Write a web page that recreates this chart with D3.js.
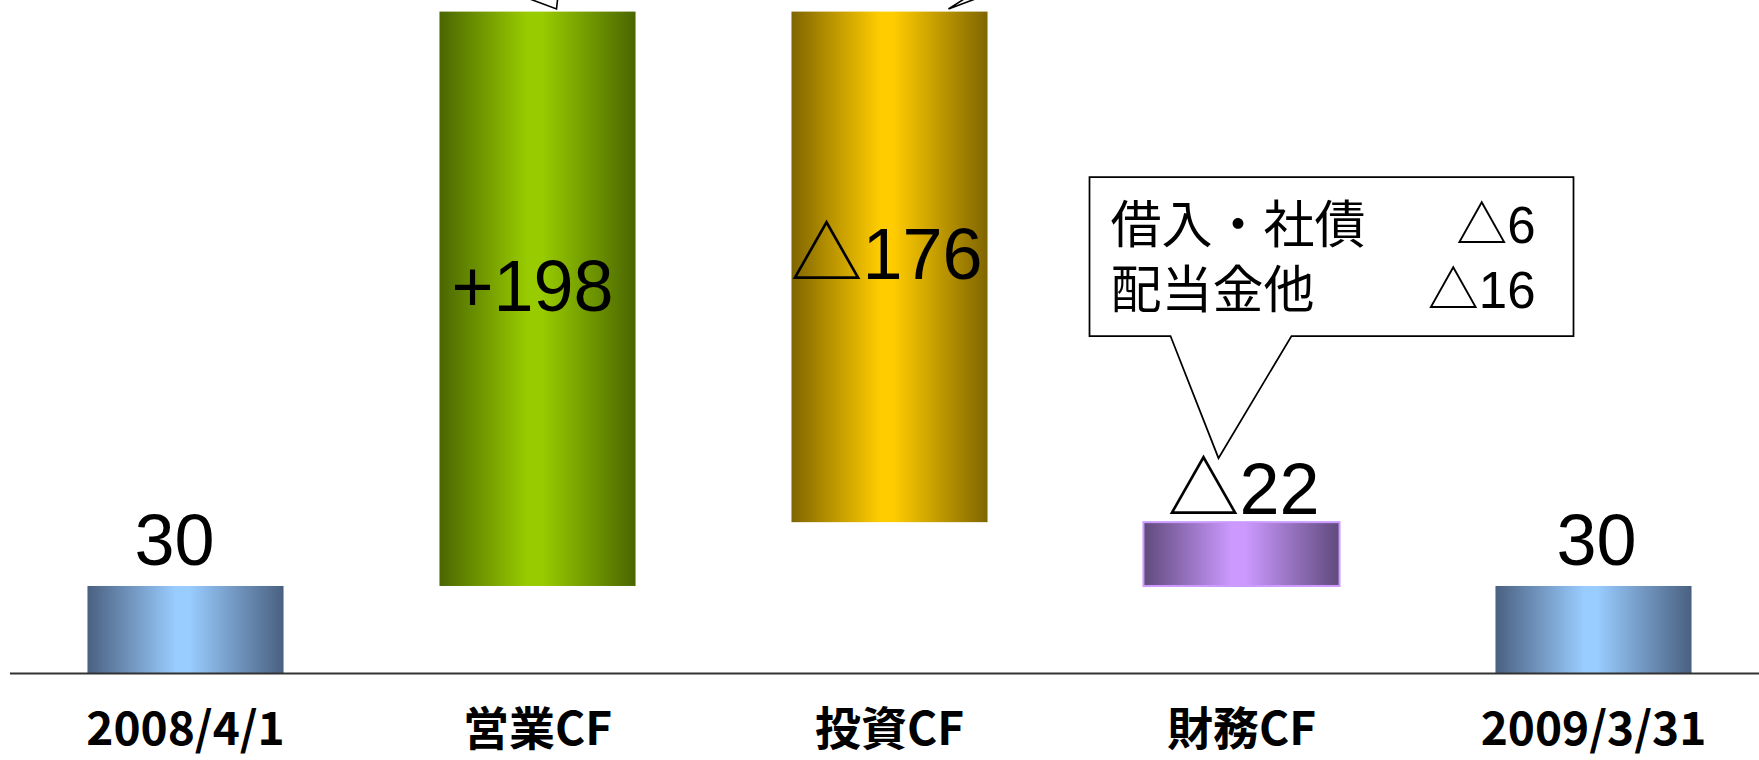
<!DOCTYPE html>
<html>
<head>
<meta charset="utf-8">
<script src="https://cdn.jsdelivr.net/npm/d3@7/dist/d3.min.js"></script>
<style>
  html, body { margin: 0; padding: 0; background: #ffffff; overflow: hidden; }
  svg { display: block; }
</style>
</head>
<body>
<script>
// ---- data ----
const categories = ["2008/4/1", "営業CF", "投資CF", "財務CF", "2009/3/31"];
const values = [30, 198, -176, -22, 30];
const kinds = ["total", "delta", "delta", "delta", "total"];
const valueLabels = ["30", "+198", "△176", "△22", "30"];
const labelPlacement = ["above", "inside", "inside", "above", "above"];
const calloutItems = ["借入・社債", "配当金他"];
const calloutValues = ["△6", "△16"];

// ---- styles ----
const palettes = [
  { dark: "#4a6080", light: "#99ccff" },
  { dark: "#4a6600", light: "#99cc00" },
  { dark: "#7f6500", light: "#ffcc00" },
  { dark: "#5f4a7c", light: "#cc99ff" },
  { dark: "#4a6080", light: "#99ccff" }
];
const W = 1759, H = 760;
const numFont = "'Liberation Sans', Arial, 'Noto Sans CJK JP', sans-serif";

// ---- waterfall computation ----
let running = 0;
const bars = categories.map((c, i) => {
  let start, end;
  if (kinds[i] === "total") { start = 0; end = values[i]; running = values[i]; }
  else { start = running; end = running + values[i]; running = end; }
  return { cat: c, i, start, end, lo: Math.min(start, end), hi: Math.max(start, end),
           label: valueLabels[i], place: labelPlacement[i], kind: kinds[i] };
});

const svg = d3.select("body").append("svg").attr("width", W).attr("height", H);

const x = d3.scaleBand().domain(categories).range([9.5, 1769.5])
  .paddingInner(0.443).paddingOuter(0.2215);
const y = d3.scaleLinear().domain([0, 232]).range([673, 0]);

// gradients
const defs = svg.append("defs");
palettes.forEach((p, i) => {
  const g = defs.append("linearGradient").attr("id", "grad" + i)
    .attr("x1", "0").attr("x2", "1").attr("y1", "0").attr("y2", "0");
  g.append("stop").attr("offset", "0").attr("stop-color", p.dark);
  g.append("stop").attr("offset", "0.45").attr("stop-color", p.light);
  g.append("stop").attr("offset", "0.52").attr("stop-color", p.light);
  g.append("stop").attr("offset", "1").attr("stop-color", p.dark);
});

// top callout pointers (their boxes lie above the visible area)
const topPointers = [
  { i: 1, tip: [19, 9], a: [-24, -9], b: [1, -9] },
  { i: 2, tip: [59, 9], a: [24, -9], b: [14, -9] }
];
topPointers.forEach(tp => {
  const cx = x(categories[tp.i]) + x.bandwidth() / 2;
  const tx = cx + tp.tip[0], ty = tp.tip[1];
  const k = 5;
  const pts = [[tx + tp.a[0] * k, ty + tp.a[1] * k], [tx, ty], [tx + tp.b[0] * k, ty + tp.b[1] * k]];
  svg.append("path").attr("d", d3.line()(pts) + "Z")
    .attr("fill", "#ffffff").attr("stroke", "#000").attr("stroke-width", 1.6)
    .attr("stroke-linejoin", "miter");
});

// bars
svg.append("g").selectAll("rect").data(bars).join("rect")
  .attr("x", d => x(d.cat))
  .attr("width", x.bandwidth())
  .attr("y", d => y(d.hi))
  .attr("height", d => y(d.lo) - y(d.hi))
  .attr("fill", d => `url(#grad${d.i})`)
  .attr("stroke", d => d.i === 3 ? "#cc99ff" : "none")
  .attr("stroke-width", 2);

// axis
const axis = svg.append("g").attr("transform", `translate(0,${y(0)})`)
  .call(d3.axisBottom(x).tickSize(0).tickSizeOuter(0));
axis.select(".domain").attr("stroke", "#333").attr("stroke-width", 2);
axis.selectAll(".tick text")
  .attr("y", 72).attr("dy", 0)
  .attr("fill", "#000")
  .style("font-family", "'Noto Sans CJK JP', sans-serif")
  .style("font-weight", "bold")
  .style("font-size", "46px");

// value labels
const labelShift = [-11, -5, -3, 2, 3];
svg.append("g").selectAll("text").data(bars).join("text")
  .attr("x", d => x(d.cat) + x.bandwidth() / 2 + labelShift[d.i])
  .attr("y", d => {
    if (d.place === "inside") return y((d.lo + d.hi) / 2) + 12;
    return y(d.hi) - (d.kind === "total" ? 21 : 8);
  })
  .attr("text-anchor", "middle")
  .style("font-family", numFont)
  .style("font-size", "72px")
  .attr("fill", "#000")
  .text(d => d.label);

// financing callout
const fb = bars[3];
const fcx = x(fb.cat) + x.bandwidth() / 2;
const bx0 = fcx - 152, bx1 = fcx + 332, by0 = 177, by1 = 336;
const tip = [fcx - 23, y(fb.hi) - 64];
const calloutPts = [[bx0, by0], [bx1, by0], [bx1, by1], [fcx + 50, by1], tip, [fcx - 71, by1], [bx0, by1]];
svg.append("path").attr("d", d3.line()(calloutPts) + "Z")
  .attr("fill", "#ffffff").attr("stroke", "#000").attr("stroke-width", 1.75)
  .attr("stroke-linejoin", "miter");

const cg = svg.append("g")
  .style("font-family", numFont).style("font-size", "51px").attr("fill", "#000");
calloutItems.forEach((t, k) => {
  const by = 243 + k * 65;
  cg.append("text").attr("x", bx0 + 21).attr("y", by).text(t);
  cg.append("text").attr("x", bx1 - 38).attr("y", by).attr("text-anchor", "end").text(calloutValues[k]);
});
</script>
</body>
</html>
